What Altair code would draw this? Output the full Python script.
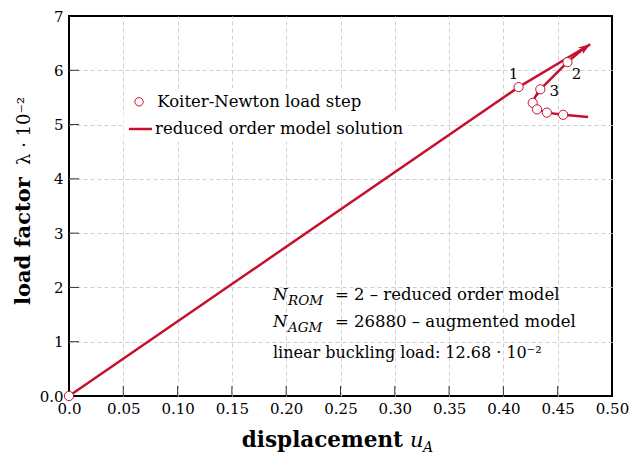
import math
import altair as alt
import pandas as pd

RED = "#c8102e"
FONT = "DejaVu Serif"
W, H = 543, 380
XMAX, YMAX = 0.5, 7.0

KN = "Koiter-Newton load step"
ROMS = "reduced order model solution"

# reduced order model solution path (two segments)
rom_seg = ["a", "a", "a", "b", "b", "b", "b", "b", "b", "b", "b", "b"]
rom_x = [0.0, 0.414, 0.480, 0.475, 0.459, 0.434, 0.429, 0.427, 0.431, 0.440, 0.455, 0.478]
rom_y = [0.0, 5.69, 6.48, 6.42, 6.15, 5.65, 5.50, 5.40, 5.28, 5.22, 5.18, 5.14]

# Koiter-Newton load steps
step_x = [0.0, 0.414, 0.459, 0.434, 0.427, 0.431, 0.440, 0.455]
step_y = [0.0, 5.69, 6.15, 5.65, 5.40, 5.28, 5.22, 5.18]
step_label = ["", "1", "2", "3", "", "", "", ""]

# arrow heads (tip and the point they come from)
arrow_x = [0.480, 0.429]
arrow_y = [6.48, 5.50]
arrow_from_x = [0.0, 0.434]
arrow_from_y = [0.0, 5.65]

x_ticks = [0.0, 0.05, 0.10, 0.15, 0.20, 0.25, 0.30, 0.35, 0.40, 0.45, 0.50]
y_ticks = [0, 1, 2, 3, 4, 5, 6, 7]

ann_rom = ["N", "ROM", "= 2 – reduced order model"]
ann_agm = ["N", "AGM", "= 26880 – augmented model"]
ann_buck = "linear buckling load: 12.68 · 10⁻²"

# ---------------------------------------------------------------------------
xs = alt.Scale(domain=[0, XMAX], nice=False, zero=False)
ys = alt.Scale(domain=[0, YMAX], nice=False, zero=False)

leg_pts = alt.Legend(
    orient="none", legendX=57.8, legendY=73.5, title=None,
    fillColor="white", padding=4, labelLimit=0,
    labelFont=FONT, labelFontSize=16.5, labelColor="black", labelOffset=10,
    symbolType="circle", symbolSize=70, symbolStrokeWidth=1,
    symbolFillColor="white", symbolOpacity=1,
)
leg_line = alt.Legend(
    orient="none", legendX=54.5, legendY=96, title=None,
    fillColor="white", padding=4, labelLimit=0,
    labelFont=FONT, labelFontSize=16.5, labelColor="black", labelOffset=1.5,
    symbolType="stroke", symbolSize=529, symbolStrokeWidth=2.5,
)

inner_x = x_ticks[1:-1]
inner_y = y_ticks[1:-1]

main_x_axis = alt.Axis(
    orient="bottom", values=x_ticks, ticks=False, domain=False, title=None,
    grid=False, labelFlush=False,
    labelFont=FONT, labelFontSize=15, labelColor="black", labelPadding=5,
    labelExpr="datum.value == 0 ? '0.0' : format(datum.value, '.2f')",
)
main_y_axis = alt.Axis(
    orient="left", values=y_ticks, ticks=False, domain=False, title=None,
    grid=False, labelFlush=False,
    labelFont=FONT, labelFontSize=15, labelColor="black", labelPadding=6,
    labelExpr="datum.value == 0 ? '0.0' : format(datum.value, 'd')",
)
grid_x_axis = alt.Axis(
    orient="top", values=inner_x, labels=False, domain=False, ticks=False,
    grid=True, gridDash=[4, 3], gridColor="#cfcfcf", gridWidth=1, title=None,
)
grid_y_axis = alt.Axis(
    orient="right", values=inner_y, labels=False, domain=False, ticks=False,
    grid=True, gridDash=[4, 3], gridColor="#cfcfcf", gridWidth=1, title=None,
)

rom_df = pd.DataFrame({"x": rom_x, "y": rom_y, "seg": rom_seg,
                       "ord": list(range(len(rom_x))), "kind": ROMS})
step_df = pd.DataFrame({"x": step_x, "y": step_y, "label": step_label, "kind": KN})
xt_df = pd.DataFrame({"v": inner_x})
yt_df = pd.DataFrame({"v": inner_y})


def pix_angle(x0, y0, x1, y1):
    dx = (x1 - x0) * W / XMAX
    dy = -(y1 - y0) * H / YMAX
    return (math.degrees(math.atan2(dx, -dy)) + 360) % 360


arrow_df = pd.DataFrame({
    "x": arrow_x, "y": arrow_y,
    "angle": [pix_angle(a, b, c, d) for a, b, c, d in
              zip(arrow_from_x, arrow_from_y, arrow_x, arrow_y)],
})

# inward tick marks at the bottom and left frame edges
xticks_layer = alt.Chart(xt_df).mark_rule(color="#333333", strokeWidth=1).encode(
    x=alt.X("v:Q", scale=xs, axis=None),
    y=alt.value(H), y2=alt.value(H - 10),
)
yticks_layer = alt.Chart(yt_df).mark_rule(color="#333333", strokeWidth=1).encode(
    y=alt.Y("v:Q", scale=ys, axis=None),
    x=alt.value(0), x2=alt.value(10),
)

line = alt.Chart(rom_df).mark_line(strokeWidth=2.5, strokeJoin="round").encode(
    x=alt.X("x:Q", scale=xs, axis=main_x_axis),
    y=alt.Y("y:Q", scale=ys, axis=main_y_axis),
    color=alt.Color("kind:N", scale=alt.Scale(domain=[ROMS], range=[RED]), legend=leg_line),
    detail="seg:N",
    order="ord:Q",
)

ARROW = "M0,0L0.55,1.6L0,1.15L-0.55,1.6Z"
arrows = alt.Chart(arrow_df).mark_point(
    shape=ARROW, filled=True, size=225, color=RED, opacity=1, strokeWidth=0
).encode(
    x=alt.X("x:Q", scale=xs, axis=None),
    y=alt.Y("y:Q", scale=ys, axis=None),
    angle=alt.Angle("angle:Q", scale=None),
)

pts = alt.Chart(step_df).mark_point(
    shape="circle", filled=False, fill="white", fillOpacity=1, size=85,
    strokeWidth=1, opacity=1
).encode(
    x=alt.X("x:Q", scale=xs, axis=grid_x_axis),
    y=alt.Y("y:Q", scale=ys, axis=grid_y_axis),
    color=alt.Color("kind:N", scale=alt.Scale(domain=[KN], range=[RED]), legend=leg_pts),
)

label_offsets = {"1": (-5, -13), "2": (9, 12), "3": (14, 2)}
label_layers = []
for lab, (ddx, ddy) in label_offsets.items():
    label_layers.append(
        alt.Chart(step_df).transform_filter(alt.datum.label == lab).mark_text(
            font=FONT, fontSize=15, color="black", dx=ddx, dy=ddy
        ).encode(
            x=alt.X("x:Q", scale=xs, axis=None),
            y=alt.Y("y:Q", scale=ys, axis=None),
            text="label:N",
        )
    )


def txt(s, x, y, size, style="normal", weight="normal", angle=0, align="left"):
    return alt.Chart(pd.DataFrame({"t": [s]})).mark_text(
        x=x, y=y, align=align, baseline="alphabetic", font=FONT, fontSize=size,
        fontStyle=style, fontWeight=weight, angle=angle, color="black",
    ).encode(text="t:N")


annots = [
    txt(ann_rom[0], 204, 284, 16.5, style="italic"),
    txt(ann_rom[1], 219, 289, 13.5, style="italic"),
    txt(ann_rom[2], 266, 284, 16.5),
    txt(ann_agm[0], 204, 311, 16.5, style="italic"),
    txt(ann_agm[1], 219, 316, 13.5, style="italic"),
    txt(ann_agm[2], 266, 311, 16.5),
    txt(ann_buck, 204, 342, 16),
    # x title
    txt("displacement", 334, 431, 21.5, weight="bold", align="right"),
    txt("u", 341, 431, 21, style="italic"),
    txt("A", 354, 436, 14, style="italic"),
    # y title
    txt("load factor", -39, 289, 21, weight="bold", angle=270),
    txt("λ · 10⁻²", -39, 149, 18, angle=270),
]

chart = alt.layer(
    xticks_layer, yticks_layer, line, arrows, pts, *label_layers, *annots
).resolve_scale(color="independent").properties(
    width=W, height=H,
    autosize=alt.AutoSizeParams(type="none"),
    padding={"left": 69, "top": 16, "right": 19, "bottom": 64},
).configure_view(stroke="black", strokeWidth=2)

chart.save("out.html", embed_options={"renderer": "svg", "actions": False})
